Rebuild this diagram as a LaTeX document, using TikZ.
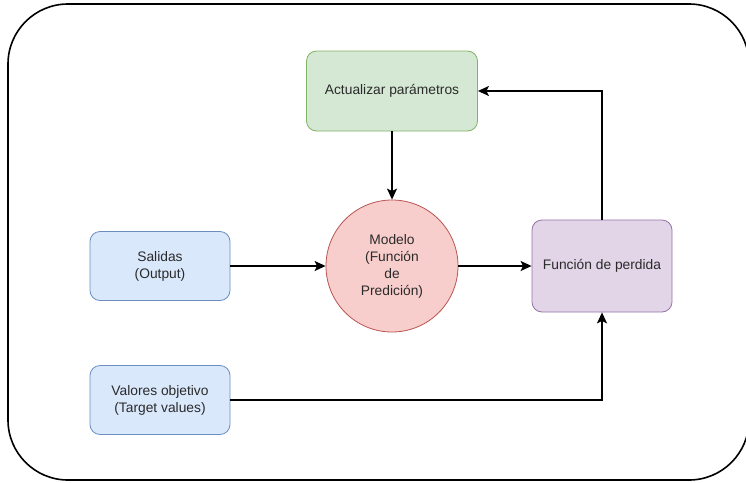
\documentclass[tikz,border=0pt]{standalone}
\usepackage{fontspec}
\setmainfont{Liberation Sans}
\usetikzlibrary{arrows.meta}
\definecolor{greenfill}{HTML}{D5E8D4}\definecolor{greenline}{HTML}{82B366}
\definecolor{bluefill}{HTML}{DAE8FC}\definecolor{blueline}{HTML}{6C8EBF}
\definecolor{redfill}{HTML}{F8CECC}\definecolor{redline}{HTML}{B85450}
\definecolor{purplefill}{HTML}{E1D5E7}\definecolor{purpleline}{HTML}{9673A6}
\definecolor{textgray}{HTML}{2A2A2A}
\tikzset{
  lbl/.style={align=center, font=\fontsize{13.8}{17}\selectfont, text=textgray},
  box/.style={draw, rounded corners=10pt, line width=0.8pt, inner sep=0pt, lbl},
  link/.style={line width=1.6pt, -{Stealth[length=11pt,width=10pt,inset=2.5pt]}},
}
\begin{document}
\begin{tikzpicture}[x=1pt,y=-1pt]
\useasboundingbox (0,0) rectangle (746,482);
% outer frame
\draw[line width=1.6pt, rounded corners=60pt] (8,4) rectangle (749,480);
% nodes
\node[box, fill=greenfill, draw=greenline, minimum width=171pt, minimum height=80pt] (upd) at (392,91) {Actualizar parámetros};
\node[box, fill=bluefill, draw=blueline, minimum width=140pt, minimum height=69pt] (out) at (160,266) {Salidas\\(Output)};
\node[box, fill=bluefill, draw=blueline, minimum width=140pt, minimum height=69pt] (tgt) at (160,400) {Valores objetivo\\(Target values)};
\node[circle, draw=redline, fill=redfill, line width=0.8pt, minimum size=132pt, inner sep=0pt, lbl] (mod) at (392,266) {Modelo\\(Función\\de\\Predición)};
\node[box, fill=purplefill, draw=purpleline, minimum width=140pt, minimum height=92pt] (loss) at (602,266) {Función de perdida};
% connectors
\draw[link] (upd) -- (mod);
\draw[link] (out) -- (mod);
\draw[link] (mod) -- (loss);
\draw[link] (loss.north) |- (upd.east);
\draw[link] (tgt.east) -| (loss.south);
\end{tikzpicture}
\end{document}
